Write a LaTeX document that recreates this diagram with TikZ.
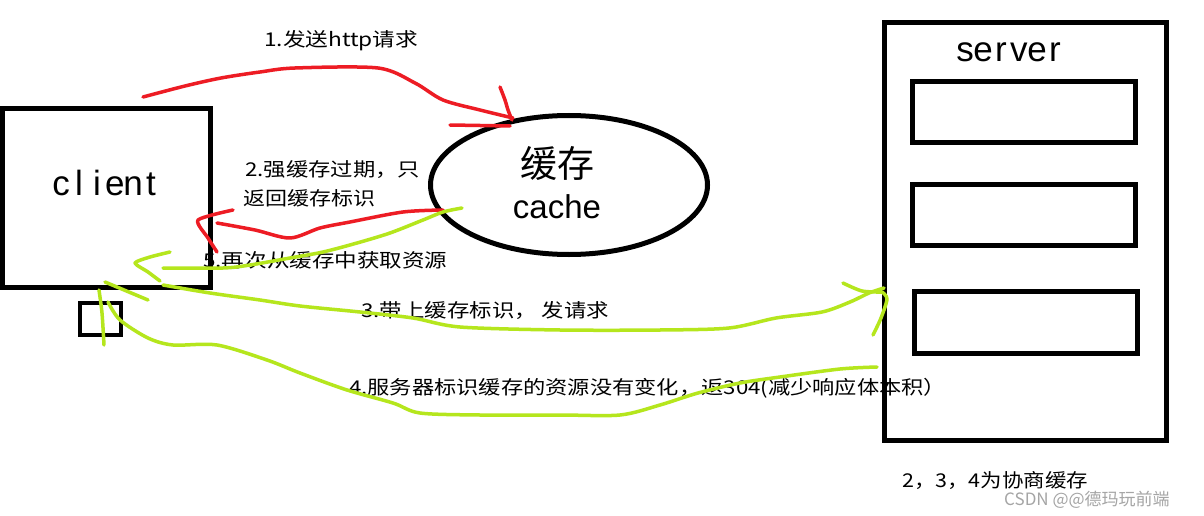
\documentclass[tikz,border=0pt]{standalone}
\usepackage{fontspec}
\usepackage{graphicx}
\setmainfont{Liberation Sans}
\newfontfamily\cjk{Noto Sans CJK SC}
\usetikzlibrary{shapes.geometric}
\definecolor{pred}{RGB}{237,28,36}
\definecolor{plime}{RGB}{181,230,29}
\definecolor{wmgray}{RGB}{165,165,165}
\newcommand\fitw[2]{\resizebox{#1}{\height}{#2}}
\newcommand\mch[1]{\makebox[18pt]{#1}}
\begin{document}
\begin{tikzpicture}[x=1pt,y=-1pt,
  blk/.style={draw=black, line width=5pt, inner sep=0pt, outer sep=0pt},
  redl/.style={draw=pred, line width=3.5pt, line cap=round, line join=round},
  grnl/.style={draw=plime, line width=3.5pt, line cap=round, line join=round},
  lbl/.style={font=\cjk\fontsize{19}{19}\selectfont, anchor=west, inner sep=0pt},
  big/.style={font=\fontsize{35}{35}\selectfont, inner sep=0pt, anchor=base}]

\path[fill=white] (0,0) rectangle (1204,516);
\useasboundingbox (0,0) rectangle (1204,516);

% client side
\node[blk, minimum width=208pt, minimum height=179pt] (client) at (106.5,198) {};
\node[blk, line width=4pt, minimum width=41pt, minimum height=32pt] (smallbox) at (100.5,319) {};
\node[big] (clienttxt) at (106,195) {\mch{c}\mch{l}\mch{i}\mch{e}\mch{n}\mch{t}};

% cache
\node[blk, ellipse, minimum width=277pt, minimum height=139pt] (cache) at (569,185) {};
\node[font=\cjk\fontsize{37}{37}\selectfont, inner sep=0pt] (cachecn) at (557,163) {缓存};
\node[font=\fontsize{33}{33}\selectfont, inner sep=0pt, anchor=base] (cacheen) at (557,218) {cache};

% server
\node[blk, minimum width=282pt, minimum height=418pt] (server) at (1025.5,231.5) {};
\node[big] (servertxt) at (1010,62) {\mch{s}\mch{e}\mch{r}\mch{v}\mch{e}\mch{r}};
\node[blk, minimum width=223pt, minimum height=61pt] (slot1) at (1024,112) {};
\node[blk, minimum width=223pt, minimum height=61pt] (slot2) at (1024,215) {};
\node[blk, minimum width=223pt, minimum height=62pt] (slot3) at (1026,322.5) {};

% labels
\node[lbl] (l1) at (264,41) {\fitw{154pt}{1.发送http请求}};
\node[lbl] (l2a) at (245,170) {\fitw{175pt}{2.强缓存过期，只}};
\node[lbl] (l2b) at (243,198) {\fitw{132pt}{返回缓存标识}};
\node[lbl] (l5) at (203,260) {\fitw{244pt}{5.再次从缓存中获取资源}};
\node[lbl] (l3) at (361,310) {\fitw{248pt}{3.带上缓存标识， 发请求}};
\node[lbl] (l4) at (349,388) {\fitw{597pt}{4.服务器标识缓存的资源没有变化，返304(减少响应体本积）}};
\node[lbl] (lnote) at (902,480) {\fitw{186pt}{2，3，4为协商缓存}};
\node[font=\cjk\fontsize{17}{17}\selectfont, anchor=west, inner sep=0pt, text=wmgray] (wm) at (1004,500) {CSDN @@德玛玩前端};

% named ends
\coordinate (r1s) at (143,97);
\coordinate (r1e) at (513,118);
\coordinate (r2s) at (443,210);
\coordinate (r2e) at (217,223);
\coordinate (g5s) at (462,208);
\coordinate (g5e) at (163,268);
\coordinate (g3s) at (163,285);
\coordinate (g3e) at (884,288);
\coordinate (g4s) at (877,367);
\coordinate (g4e) at (108,302);

% 1. red request
\draw[redl] plot[smooth, tension=0.5] coordinates {(r1s) (185,86) (221,78) (260,72) (295,68) (378,68) (415,83) (443,100) (480,110) (r1e)};
\draw[redl] plot[smooth, tension=0.5] coordinates {(500,87) (505,100) (508,110) (512,120)};
\draw[redl] (450,125) -- (510,126);
% 2. red back
\draw[redl] plot[smooth, tension=0.5] coordinates {(r2s) (403,212) (350,222) (320,228) (290,238) (255,230) (r2e)};
\draw[redl] plot[smooth, tension=0.4] coordinates {(233,210) (198,220) (208,238) (217,252)};
% 5. green from cache
\draw[grnl] plot[smooth, tension=0.5] coordinates {(g5s) (443,212) (423,220) (390,233) (357,243) (323,252) (290,258) (250,265) (223,268) (g5e)};
\draw[grnl] plot[smooth, tension=0.4] coordinates {(170,252) (150,257) (135,263) (148,272) (160,281)};
% 3. green to server
\draw[grnl] plot[smooth, tension=0.5] coordinates {(g3s) (210,293) (260,300) (300,306) (360,312) (413,318) (460,327) (560,330) (660,330) (729,328) (776,318) (822,312) (850,302) (869,293) (g3e)};
\draw[grnl] plot[smooth, tension=0.5] coordinates {(843,283) (862,291) (882,292)};
\draw[grnl] plot[smooth, tension=0.5] coordinates {(882,292) (887,299) (881,318) (873,335)};
% 4. green back to client
\draw[grnl] plot[smooth, tension=0.5] coordinates {(g4s) (840,369) (780,377) (740,383) (698,393) (660,405) (620,415) (560,415) (480,415) (420,413) (393,403) (347,390) (300,373) (267,360) (217,345) (173,345) (148,338) (120,320) (g4e)};
\draw[grnl] (105,282) -- (148,300);
\draw[grnl] plot[smooth, tension=0.5] coordinates {(99,290) (102,313) (104,345)};
\end{tikzpicture}
\end{document}
